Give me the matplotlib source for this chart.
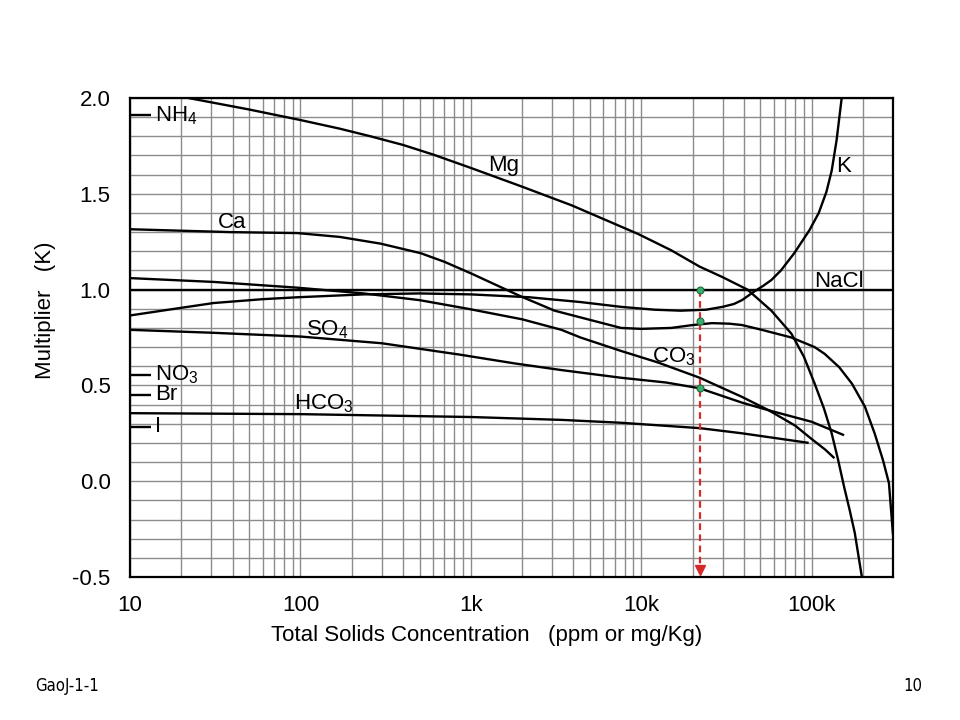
import numpy as np
import matplotlib
matplotlib.use('Agg')
import matplotlib.pyplot as plt
from matplotlib.ticker import FixedLocator, LogLocator, MultipleLocator, NullFormatter

plt.rcParams['font.family'] = ['Liberation Sans', 'DejaVu Sans']
plt.rcParams['mathtext.fontset'] = 'custom'
plt.rcParams['mathtext.rm'] = 'Liberation Sans'
plt.rcParams['mathtext.it'] = 'Liberation Sans'

# Dunlap multipliers (concentration in ppm)
mg_x = [22, 50, 100, 170, 258, 400, 600, 1000, 1960, 3900, 9600, 15000, 22000, 30000, 42000, 58000, 76000, 90000, 104000, 118000, 131000, 143000, 155000, 167000, 179000, 197000]
mg_y = [2.0, 1.94, 1.885, 1.84, 1.80, 1.755, 1.705, 1.635, 1.54, 1.44, 1.29, 1.205, 1.12, 1.065, 1.0, 0.89, 0.77, 0.65, 0.51, 0.38, 0.25, 0.11, -0.03, -0.15, -0.27, -0.5]

k_x = [10, 20, 31, 60, 96, 235, 500, 1000, 2200, 4400, 7600, 12000, 17000, 24000, 30000, 35000, 39000, 46000, 52000, 58000, 66000, 79000, 97000, 110000, 122000, 131000, 140000, 150000]
k_y = [0.865, 0.905, 0.93, 0.95, 0.96, 0.975, 0.98, 0.975, 0.96, 0.935, 0.91, 0.895, 0.89, 0.895, 0.91, 0.925, 0.945, 0.99, 1.02, 1.05, 1.10, 1.19, 1.31, 1.40, 1.51, 1.62, 1.78, 2.0]

ca_x = [10, 39, 96, 170, 295, 508, 700, 1000, 1400, 1960, 3100, 5100, 7600, 10000, 15000, 20000, 26000, 33000, 39000, 51000, 76000, 104000, 119000, 145000, 172000, 205000, 234000, 262000, 284000, 300000]
ca_y = [1.315, 1.30, 1.295, 1.275, 1.24, 1.19, 1.145, 1.085, 1.025, 0.965, 0.89, 0.84, 0.80, 0.795, 0.80, 0.815, 0.825, 0.822, 0.815, 0.79, 0.75, 0.70, 0.665, 0.595, 0.51, 0.39, 0.25, 0.11, -0.01, -0.28]

co3_x = [10, 31, 96, 235, 500, 960, 2000, 3400, 4400, 7600, 12500, 22000, 39000, 56000, 80000, 100000, 120000, 136000]
co3_y = [1.06, 1.04, 1.01, 0.98, 0.945, 0.90, 0.845, 0.79, 0.75, 0.68, 0.62, 0.54, 0.44, 0.37, 0.29, 0.22, 0.165, 0.12]

so4_x = [10, 30, 100, 300, 870, 1800, 3400, 7600, 14000, 22000, 39000, 56000, 100000, 155000]
so4_y = [0.79, 0.775, 0.755, 0.72, 0.66, 0.615, 0.58, 0.54, 0.515, 0.485, 0.41, 0.37, 0.31, 0.24]

hco3_x = [10, 100, 1000, 3400, 7600, 22000, 39000, 96000]
hco3_y = [0.355, 0.35, 0.335, 0.32, 0.305, 0.277, 0.25, 0.20]

nacl_x = [10, 300000]
nacl_y = [1.0, 1.0]

# single-value ions drawn as short ticks at the left edge
ion_names = ['NH$_4$', 'NO$_3$', 'Br', 'I']
ion_vals = [1.91, 0.555, 0.45, 0.285]

# worked example: 22.2k ppm
ex_conc = 22200
ex_vals = [1.0, 0.835, 0.485]

fig = plt.figure(figsize=(9.6, 7.2), dpi=100)
ax = fig.add_axes([130/960, 1-577/720, 763/960, 479/720])

ax.set_xscale('log')
ax.set_xlim(10, 300000)
ax.set_ylim(-0.5, 2.0)

ax.xaxis.set_major_locator(FixedLocator([10, 100, 1000, 10000, 100000]))
ax.xaxis.set_minor_locator(LogLocator(base=10, subs=range(2, 10), numticks=20))
ax.xaxis.set_minor_formatter(NullFormatter())
ax.set_xticklabels(['10', '100', '1k', '10k', '100k'])
ax.yaxis.set_minor_locator(MultipleLocator(0.1))
ax.set_yticks([-0.5, 0.0, 0.5, 1.0, 1.5, 2.0])
ax.set_yticklabels(['-0.5', '0.0', '0.5', '1.0', '1.5', '2.0'])

ax.grid(True, which='both', color='#8c8c8c', lw=1.0)
ax.set_axisbelow(True)
ax.tick_params(which='both', length=0, labelsize=16)
ax.tick_params(axis='x', pad=13)
ax.tick_params(axis='y', pad=14)
for s in ax.spines.values():
    s.set_linewidth(1.6)
    s.set_color('black')

lk = dict(color='black', lw=1.7, solid_capstyle='butt', solid_joinstyle='round')
ax.plot(mg_x, mg_y, **lk)
ax.plot(k_x, k_y, **lk)
ax.plot(ca_x, ca_y, **lk)
ax.plot(co3_x, co3_y, **lk)
ax.plot(so4_x, so4_y, **lk)
ax.plot(hco3_x, hco3_y, **lk)
ax.plot(nacl_x, nacl_y, **lk)

for v in ion_vals:
    ax.plot([10, 13.3], [v, v], **lk)

fs = 16
for name, v in zip(ion_names, ion_vals):
    ax.text(14.0, v, name, fontsize=fs, va='center', ha='left')

ax.text(1260, 1.65, 'Mg', fontsize=fs, va='center')
ax.text(33, 1.35, 'Ca', fontsize=fs, va='center')
ax.text(140000, 1.64, 'K', fontsize=fs, va='center')
ax.text(103000, 1.04, 'NaCl', fontsize=fs, va='center')
ax.text(108, 0.79, 'SO$_4$', fontsize=fs, va='center')
ax.text(11500, 0.65, 'CO$_3$', fontsize=fs, va='center')
ax.text(92, 0.405, 'HCO$_3$', fontsize=fs, va='center')

# red dashed arrow and green points of the example
ax.plot([ex_conc, ex_conc], [1.0, -0.45], color='#d42a2a', lw=1.6, ls=(0, (3, 2)))
ax.plot([ex_conc], [-0.465], marker='v', color='#d42a2a', ms=7, clip_on=False)
ax.plot([ex_conc] * len(ex_vals), ex_vals, 'o', color='#3aae6e', mec='#1d6e3f', ms=5, mew=0.8)

fig.text(45/960, 1-310/720, 'Multiplier   (K)', rotation=90, fontsize=16, ha='center', va='center')
fig.text(487/960, 1-635/720, 'Total Solids Concentration   (ppm or mg/Kg)', fontsize=16, ha='center', va='center')

fig.text(35/960, 1-686/720, 'GaoJ-1-1', fontsize=12, ha='left', va='center', family='DejaVu Sans', stretch='condensed')
fig.text(922/960, 1-686/720, '10', fontsize=12, ha='right', va='center', family='DejaVu Sans', stretch='condensed')

fig.savefig('out.png', dpi=100)
